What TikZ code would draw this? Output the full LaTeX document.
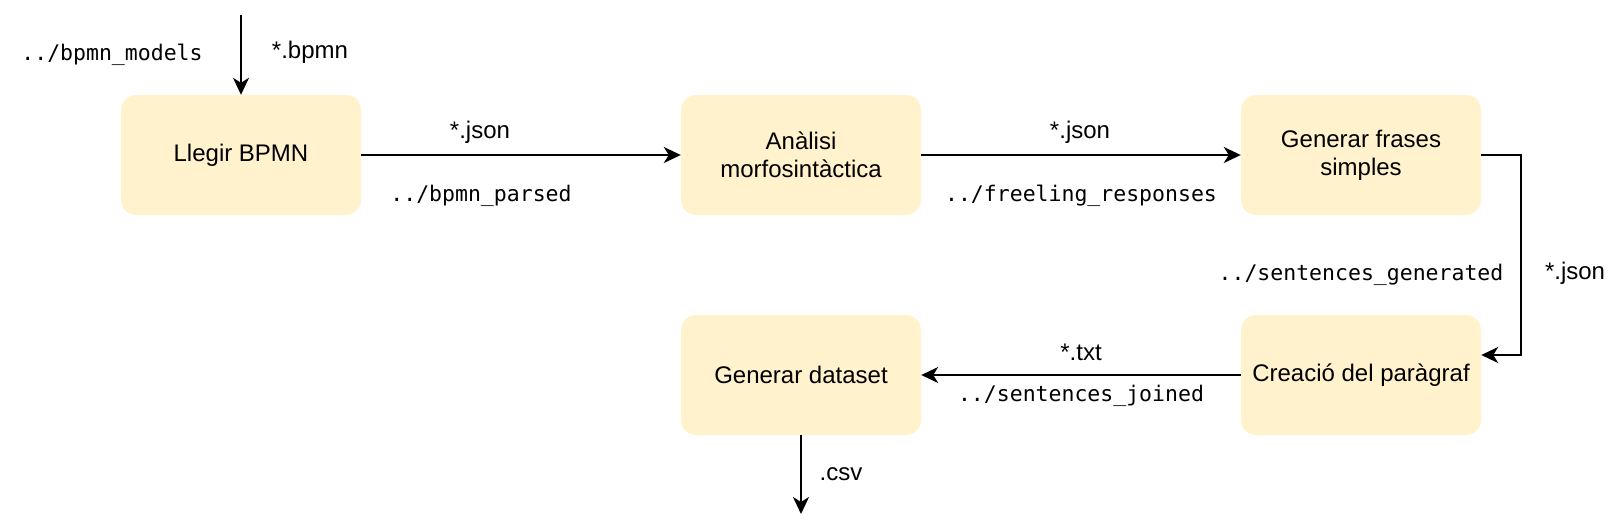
\documentclass[tikz,border=0pt]{standalone}
\usepackage{fontspec}
\setmainfont{Liberation Sans}
\setmonofont{DejaVu Sans Mono}
\usetikzlibrary{arrows.meta}
\definecolor{boxfill}{HTML}{FFF2CC}
\tikzset{
  procbox/.style={rectangle, rounded corners=15pt, fill=boxfill, draw=none,
    minimum width=240pt, minimum height=120pt, inner sep=0pt, align=center,
    font=\fontsize{24}{28}\selectfont},
  sanslab/.style={inner sep=0pt, font=\fontsize{24}{28}\selectfont},
  monolab/.style={inner sep=0pt, font=\fontsize{21.5}{26}\selectfont\ttfamily},
  conn/.style={line width=2pt, -{Stealth[length=17pt,width=16pt,inset=5pt]}}
}
\begin{document}
\begin{tikzpicture}[x=1pt,y=-1pt]
\useasboundingbox (0,0) rectangle (1616,532);

\node[procbox] (llegir) at (241,155) {Llegir BPMN};
\node[procbox] (analisi) at (801,155) {Anàlisi\\morfosintàctica};
\node[procbox] (frases) at (1361,155) {Generar frases\\simples};
\node[procbox] (creacio) at (1361,375) {Creació del paràgraf};
\node[procbox] (dataset) at (801,375) {Generar dataset};

\coordinate (src) at (241,15);
\coordinate (sink) at (801,514);

\draw[conn] (src) -- (llegir.north);
\draw[conn] (llegir.east) -- (analisi.west);
\draw[conn] (analisi.east) -- (frases.west);
\draw[conn] (frases.east) -- ++(40,0) |- ([yshift=20pt]creacio.east);
\draw[conn] (creacio.west) -- (dataset.east);
\draw[conn] (dataset.south) -- (sink);

\node[monolab] (l1) at (112,55) {../bpmn\_models};
\node[sanslab] (l2) at (310,52) {*.bpmn};
\node[sanslab] (l3) at (480,132) {*.json};
\node[monolab] (l4) at (481,196) {../bpmn\_parsed};
\node[sanslab] (l5) at (1080,132) {*.json};
\node[monolab] (l6) at (1081,196) {../freeling\_responses};
\node[monolab] (l7) at (1361,275) {../sentences\_generated};
\node[sanslab] (l8) at (1575,273) {*.json};
\node[sanslab] (l9) at (1081,352) {*.txt};
\node[monolab] (l10) at (1081,396) {../sentences\_joined};
\node[sanslab] (l11) at (841,474) {.csv};
\end{tikzpicture}
\end{document}
